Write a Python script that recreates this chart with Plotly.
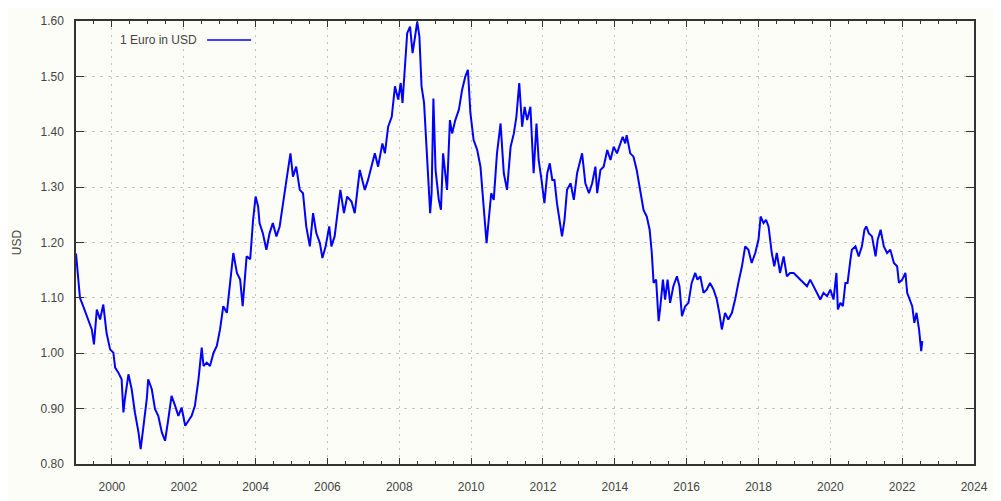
import plotly.graph_objects as go

# decimal year of each reading, and the euro's value in dollars
years = [
    1999.00, 1999.11, 1999.20, 1999.30, 1999.44, 1999.50, 1999.58, 1999.67, 1999.76, 1999.85, 1999.95,
    2000.04, 2000.09, 2000.18, 2000.27, 2000.32, 2000.36, 2000.46, 2000.55, 2000.64, 2000.74, 2000.80,
    2000.88, 2000.97, 2001.01, 2001.11, 2001.20, 2001.29, 2001.39, 2001.48, 2001.57, 2001.66, 2001.76,
    2001.85, 2001.94, 2002.04, 2002.13, 2002.22, 2002.31, 2002.41, 2002.50, 2002.55, 2002.64, 2002.73,
    2002.83, 2002.92, 2003.01, 2003.10, 2003.20, 2003.29, 2003.38, 2003.48, 2003.57, 2003.64, 2003.75,
    2003.85, 2003.93, 2004.00, 2004.07, 2004.11, 2004.20, 2004.30, 2004.39, 2004.48, 2004.58, 2004.67,
    2004.76, 2004.86, 2004.97, 2005.04, 2005.13, 2005.23, 2005.32, 2005.41, 2005.51, 2005.60, 2005.69,
    2005.79, 2005.86, 2005.95, 2006.05, 2006.11, 2006.20, 2006.30, 2006.36, 2006.46, 2006.55, 2006.67,
    2006.76, 2006.90, 2007.04, 2007.13, 2007.23, 2007.32, 2007.41, 2007.53, 2007.60, 2007.69, 2007.79,
    2007.88, 2007.97, 2008.04, 2008.09, 2008.16, 2008.22, 2008.30, 2008.37, 2008.44, 2008.50, 2008.56,
    2008.62, 2008.69, 2008.74, 2008.81, 2008.86, 2008.90, 2008.95, 2009.01, 2009.10, 2009.16, 2009.22,
    2009.29, 2009.33, 2009.41, 2009.47, 2009.56, 2009.66, 2009.75, 2009.84, 2009.91, 2009.98, 2010.07,
    2010.17, 2010.26, 2010.35, 2010.43, 2010.49, 2010.56, 2010.63, 2010.72, 2010.82, 2010.91, 2011.00,
    2011.10, 2011.19, 2011.26, 2011.34, 2011.42, 2011.49, 2011.56, 2011.65, 2011.74, 2011.82, 2011.88,
    2011.96, 2012.04, 2012.12, 2012.19, 2012.26, 2012.32, 2012.39, 2012.46, 2012.53, 2012.60, 2012.67,
    2012.77, 2012.86, 2012.95, 2013.09, 2013.18, 2013.28, 2013.37, 2013.46, 2013.51, 2013.60, 2013.69,
    2013.79, 2013.88, 2013.97, 2014.06, 2014.15, 2014.22, 2014.29, 2014.33, 2014.43, 2014.52, 2014.61,
    2014.71, 2014.80, 2014.89, 2014.97, 2015.03, 2015.08, 2015.15, 2015.22, 2015.26, 2015.34, 2015.40,
    2015.47, 2015.54, 2015.63, 2015.73, 2015.80, 2015.87, 2015.96, 2016.05, 2016.14, 2016.24, 2016.30,
    2016.38, 2016.47, 2016.56, 2016.65, 2016.75, 2016.84, 2016.91, 2016.98, 2017.07, 2017.16, 2017.26,
    2017.35, 2017.44, 2017.54, 2017.63, 2017.72, 2017.81, 2017.91, 2018.00, 2018.06, 2018.14, 2018.21,
    2018.28, 2018.37, 2018.44, 2018.51, 2018.60, 2018.70, 2018.79, 2018.88, 2018.98, 2019.07, 2019.16,
    2019.26, 2019.35, 2019.44, 2019.53, 2019.63, 2019.72, 2019.81, 2019.91, 2020.00, 2020.09, 2020.17,
    2020.21, 2020.28, 2020.35, 2020.42, 2020.48, 2020.56, 2020.60, 2020.70, 2020.79, 2020.88, 2020.95,
    2021.00, 2021.07, 2021.16, 2021.26, 2021.32, 2021.40, 2021.49, 2021.58, 2021.67, 2021.77, 2021.86,
    2021.91, 2022.00, 2022.09, 2022.14, 2022.21, 2022.28, 2022.34, 2022.40, 2022.47, 2022.51, 2022.53,
    2022.56,
]
usd = [
    1.180, 1.100, 1.085, 1.067, 1.043, 1.016, 1.079, 1.061, 1.088, 1.037, 1.007,
    1.001, 0.974, 0.965, 0.953, 0.893, 0.917, 0.962, 0.935, 0.893, 0.857, 0.827,
    0.869, 0.917, 0.953, 0.935, 0.899, 0.887, 0.857, 0.842, 0.881, 0.923, 0.905,
    0.887, 0.902, 0.869, 0.878, 0.887, 0.905, 0.953, 1.010, 0.977, 0.983, 0.977,
    1.001, 1.013, 1.043, 1.085, 1.073, 1.133, 1.181, 1.145, 1.133, 1.085, 1.175,
    1.170, 1.241, 1.283, 1.265, 1.235, 1.217, 1.187, 1.217, 1.235, 1.211, 1.229,
    1.265, 1.313, 1.361, 1.319, 1.337, 1.295, 1.289, 1.229, 1.193, 1.253, 1.217,
    1.199, 1.172, 1.193, 1.229, 1.193, 1.211, 1.259, 1.295, 1.253, 1.283, 1.274,
    1.253, 1.331, 1.295, 1.313, 1.337, 1.361, 1.337, 1.379, 1.361, 1.409, 1.427,
    1.482, 1.458, 1.488, 1.452, 1.524, 1.578, 1.590, 1.542, 1.572, 1.599, 1.572,
    1.482, 1.452, 1.391, 1.301, 1.253, 1.289, 1.460, 1.331, 1.277, 1.259, 1.361,
    1.319, 1.295, 1.421, 1.397, 1.421, 1.440, 1.476, 1.500, 1.512, 1.434, 1.385,
    1.367, 1.337, 1.265, 1.199, 1.241, 1.289, 1.277, 1.361, 1.415, 1.325, 1.295,
    1.373, 1.397, 1.427, 1.488, 1.409, 1.445, 1.421, 1.445, 1.325, 1.415, 1.349,
    1.313, 1.271, 1.325, 1.343, 1.313, 1.313, 1.271, 1.241, 1.211, 1.241, 1.295,
    1.307, 1.277, 1.325, 1.361, 1.307, 1.289, 1.307, 1.337, 1.289, 1.331, 1.337,
    1.367, 1.349, 1.373, 1.361, 1.379, 1.391, 1.379, 1.394, 1.361, 1.355, 1.331,
    1.289, 1.259, 1.247, 1.223, 1.181, 1.127, 1.133, 1.058, 1.079, 1.133, 1.097,
    1.133, 1.091, 1.121, 1.139, 1.121, 1.067, 1.085, 1.091, 1.127, 1.145, 1.133,
    1.139, 1.109, 1.115, 1.127, 1.115, 1.097, 1.073, 1.043, 1.073, 1.061, 1.073,
    1.097, 1.127, 1.157, 1.193, 1.187, 1.163, 1.181, 1.205, 1.247, 1.235, 1.241,
    1.229, 1.181, 1.157, 1.181, 1.145, 1.175, 1.139, 1.145, 1.145, 1.139, 1.133,
    1.127, 1.121, 1.133, 1.121, 1.109, 1.097, 1.109, 1.103, 1.115, 1.097, 1.145,
    1.079, 1.091, 1.085, 1.127, 1.127, 1.169, 1.187, 1.193, 1.175, 1.193, 1.223,
    1.229, 1.217, 1.211, 1.175, 1.205, 1.223, 1.193, 1.181, 1.187, 1.163, 1.157,
    1.127, 1.133, 1.145, 1.109, 1.097, 1.085, 1.055, 1.073, 1.043, 1.013, 1.004,
    1.022,
]

series_name = "1 Euro in USD"
year_ticks = list(range(2000, 2025, 2))
value_ticks = [0.8, 0.9, 1.0, 1.1, 1.2, 1.3, 1.4, 1.5, 1.6]

font = dict(family="Liberation Sans, Arial, sans-serif", size=12, color="#444444")
axis_line = "#333333"
bg = "#fdfdf7"

fig = go.Figure()
fig.add_trace(go.Scatter(x=years, y=usd, mode="lines", name=series_name,
                         line=dict(color="#0000ff", width=2), showlegend=False))

fig.update_xaxes(
    range=[1999, 2024], tickvals=year_ticks, ticktext=[str(t) for t in year_ticks],
    showline=True, linecolor=axis_line, linewidth=1.5, mirror="allticks",
    ticks="inside", ticklen=6, tickcolor=axis_line, tickwidth=1.2,
    minor=dict(dtick=0.5, tick0=1999, ticks="inside", ticklen=3, tickcolor=axis_line, showgrid=False),
    showgrid=True, gridcolor="#c4c4c4", gridwidth=1, griddash="2px,5px",
    zeroline=False, ticklabelstandoff=11, tickfont=font, automargin=False,
)
fig.update_yaxes(
    range=[0.8, 1.6], tickvals=value_ticks, tickformat=".2f",
    showline=True, linecolor=axis_line, linewidth=1.5, mirror="ticks",
    ticks="inside", ticklen=8, tickcolor=axis_line, tickwidth=1.2,
    showgrid=True, gridcolor="#c4c4c4", gridwidth=1, griddash="3px,5px",
    zeroline=False, ticklabelstandoff=8, tickfont=font, automargin=False,
)

# axis title placed by hand so the plot area keeps its margins
fig.add_annotation(x=-0.066, y=0.5, xref="paper", yref="paper", text="USD", textangle=-90,
                   showarrow=False, xanchor="center", yanchor="middle", font=font)

# gnuplot-style key: label first, line sample after it
fig.add_annotation(x=0.137, y=0.957, xref="paper", yref="paper", text=series_name,
                   showarrow=False, xanchor="right", yanchor="middle", font=font)
fig.add_shape(type="line", xref="paper", yref="paper", x0=0.146, x1=0.195, y0=0.957, y1=0.957,
              line=dict(color="#0000ff", width=1.6))

# page body adds an 8px offset, so the figure is 8px smaller and margins shifted
fig.update_layout(
    width=993, height=493,
    margin=dict(l=68, r=27, t=13, b=37),
    paper_bgcolor=bg, plot_bgcolor=bg,
    font=font,
)

fig.write_html("out.html")
